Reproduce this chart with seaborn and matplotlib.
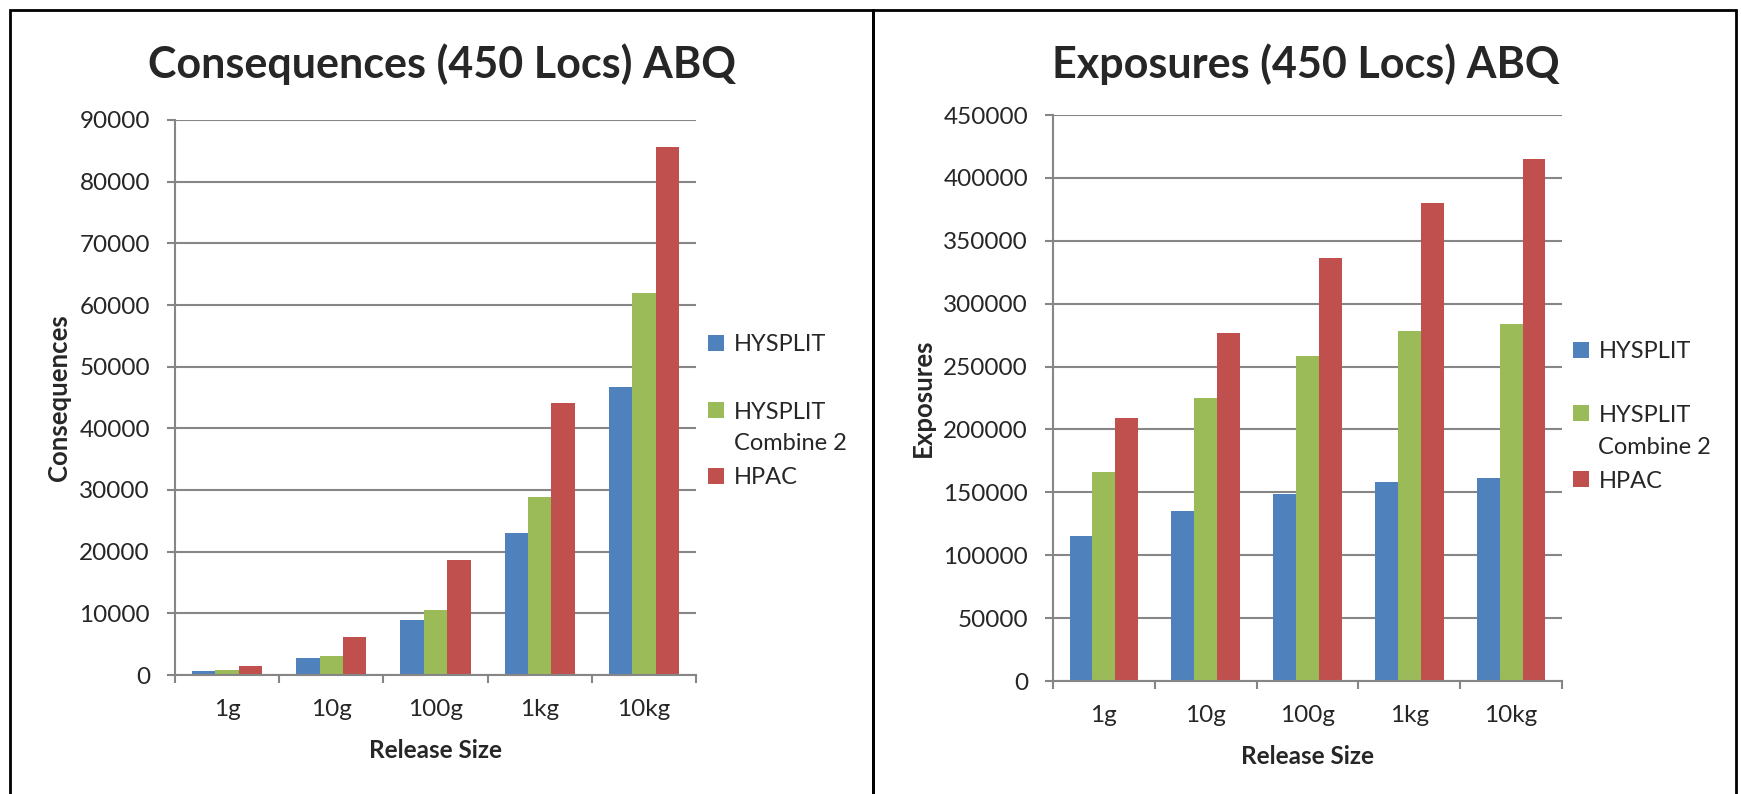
import numpy as np
import pandas as pd
import matplotlib
matplotlib.use("Agg")
import matplotlib.pyplot as plt
import seaborn as sns
from matplotlib.patches import Patch, Rectangle

categories = ["1g", "10g", "100g", "1kg", "10kg"]
series = ["HYSPLIT", "HYSPLIT Combine 2", "HPAC"]
legend_lines = ["HYSPLIT", "HYSPLIT", "Combine 2", "HPAC"]
consequences_hysplit = [700, 2700, 9000, 23100, 46700]
consequences_comb2 = [800, 3100, 10600, 28800, 62000]
consequences_hpac = [1500, 6200, 18700, 44100, 85700]
exposures_hysplit = [115000, 135000, 149000, 158000, 161000]
exposures_comb2 = [166000, 225000, 258000, 278000, 284000]
exposures_hpac = [209000, 277000, 336000, 380000, 415000]
colors = ["#4F81BD", "#9BBB59", "#C0504D"]


def long_df(a, b, c):
    rows = []
    for s, vals in zip(series, [a, b, c]):
        for cat, v in zip(categories, vals):
            rows.append({"Release Size": cat, "Series": s, "Value": v})
    return pd.DataFrame(rows)


sns.set_theme(style="white")
plt.rcParams['font.family'] = ['Lato', 'DejaVu Sans']

W, H = 1741, 794
fig = plt.figure(figsize=(W / 100, H / 100), dpi=100)

grid_c = "#868686"


def draw(ax, df, ymax, step, ylabel):
    sns.barplot(data=df, x="Release Size", y="Value", hue="Series",
                palette=colors, width=0.675, order=categories,
                hue_order=series, ax=ax, legend=False, saturation=1,
                edgecolor="none", linewidth=0)
    ax.set_ylim(0, ymax)
    ax.set_xlim(-0.5, 4.5)
    ticks = np.arange(0, ymax + 1, step)
    ax.set_yticks(ticks)
    ax.set_yticklabels([str(int(v)) for v in ticks])
    ax.yaxis.grid(True, color=grid_c, linewidth=1.5)
    ax.set_axisbelow(True)
    for s in ["top", "right"]:
        ax.spines[s].set_visible(False)
    for s in ["left", "bottom"]:
        ax.spines[s].set_color(grid_c)
        ax.spines[s].set_linewidth(1.5)
    ax.tick_params(axis="y", which="major", length=6, width=1.5, color=grid_c,
                   direction="out", left=True, labelsize=17.5, pad=12)
    ax.tick_params(axis="x", which="major", length=0, labelsize=17.5, pad=17)
    ax.set_xticks(np.arange(-0.5, 5, 1), minor=True)
    ax.tick_params(axis="x", which="minor", length=6, width=1.5, color=grid_c,
                   direction="out", bottom=True)
    ax.set_xlabel("Release Size", fontsize=17.5, fontweight="bold", labelpad=14)
    ax.set_ylabel(ylabel, fontsize=18.5, fontweight="bold", labelpad=6)


# left panel
ax1 = fig.add_axes([175 / W, 1 - 675 / H, (696 - 175) / W, (675 - 120) / H])
draw(ax1, long_df(consequences_hysplit, consequences_comb2, consequences_hpac),
     90000, 10000, "Consequences")
# right panel
ax2 = fig.add_axes([1053 / W, 1 - 681 / H, (1562 - 1053) / W, (681 - 115) / H])
draw(ax2, long_df(exposures_hysplit, exposures_comb2, exposures_hpac),
     450000, 50000, "Exposures")

fig.text(442 / W, 1 - 64 / H, "Consequences (450 Locs) ABQ", ha="center",
         va="center", fontsize=31, fontweight="bold")
fig.text(1306 / W, 1 - 64 / H, "Exposures (450 Locs) ABQ", ha="center",
         va="center", fontsize=31, fontweight="bold")

# legends: one row per line so that the marker sits on the first line
leg_colors = [colors[0], colors[1], (1, 1, 1, 0), colors[2]]
for x0, ys in [(708, [343, 410, 442, 476]), (1573, [350, 413, 445, 479])]:
    for lab, col, y in zip(legend_lines, leg_colors, ys):
        fig.legend([Patch(facecolor=col, edgecolor="none")], [lab],
                   loc="center left", bbox_to_anchor=(x0 / W, 1 - (y + 2) / H),
                   frameon=False, fontsize=17, handlelength=0.68,
                   handleheight=0.68, handletextpad=0.4, borderpad=0,
                   borderaxespad=0)

# panel borders
fig.patches.append(Rectangle((9.5 / W, -0.01), (873 - 9.5) / W, 1 - 9.5 / H + 0.01,
                             transform=fig.transFigure, fill=False,
                             edgecolor="black", linewidth=2))
fig.patches.append(Rectangle((873 / W, -0.01), (1736 - 873) / W, 1 - 9.5 / H + 0.01,
                             transform=fig.transFigure, fill=False,
                             edgecolor="black", linewidth=2))

fig.savefig("out.png", dpi=100, facecolor="white")
